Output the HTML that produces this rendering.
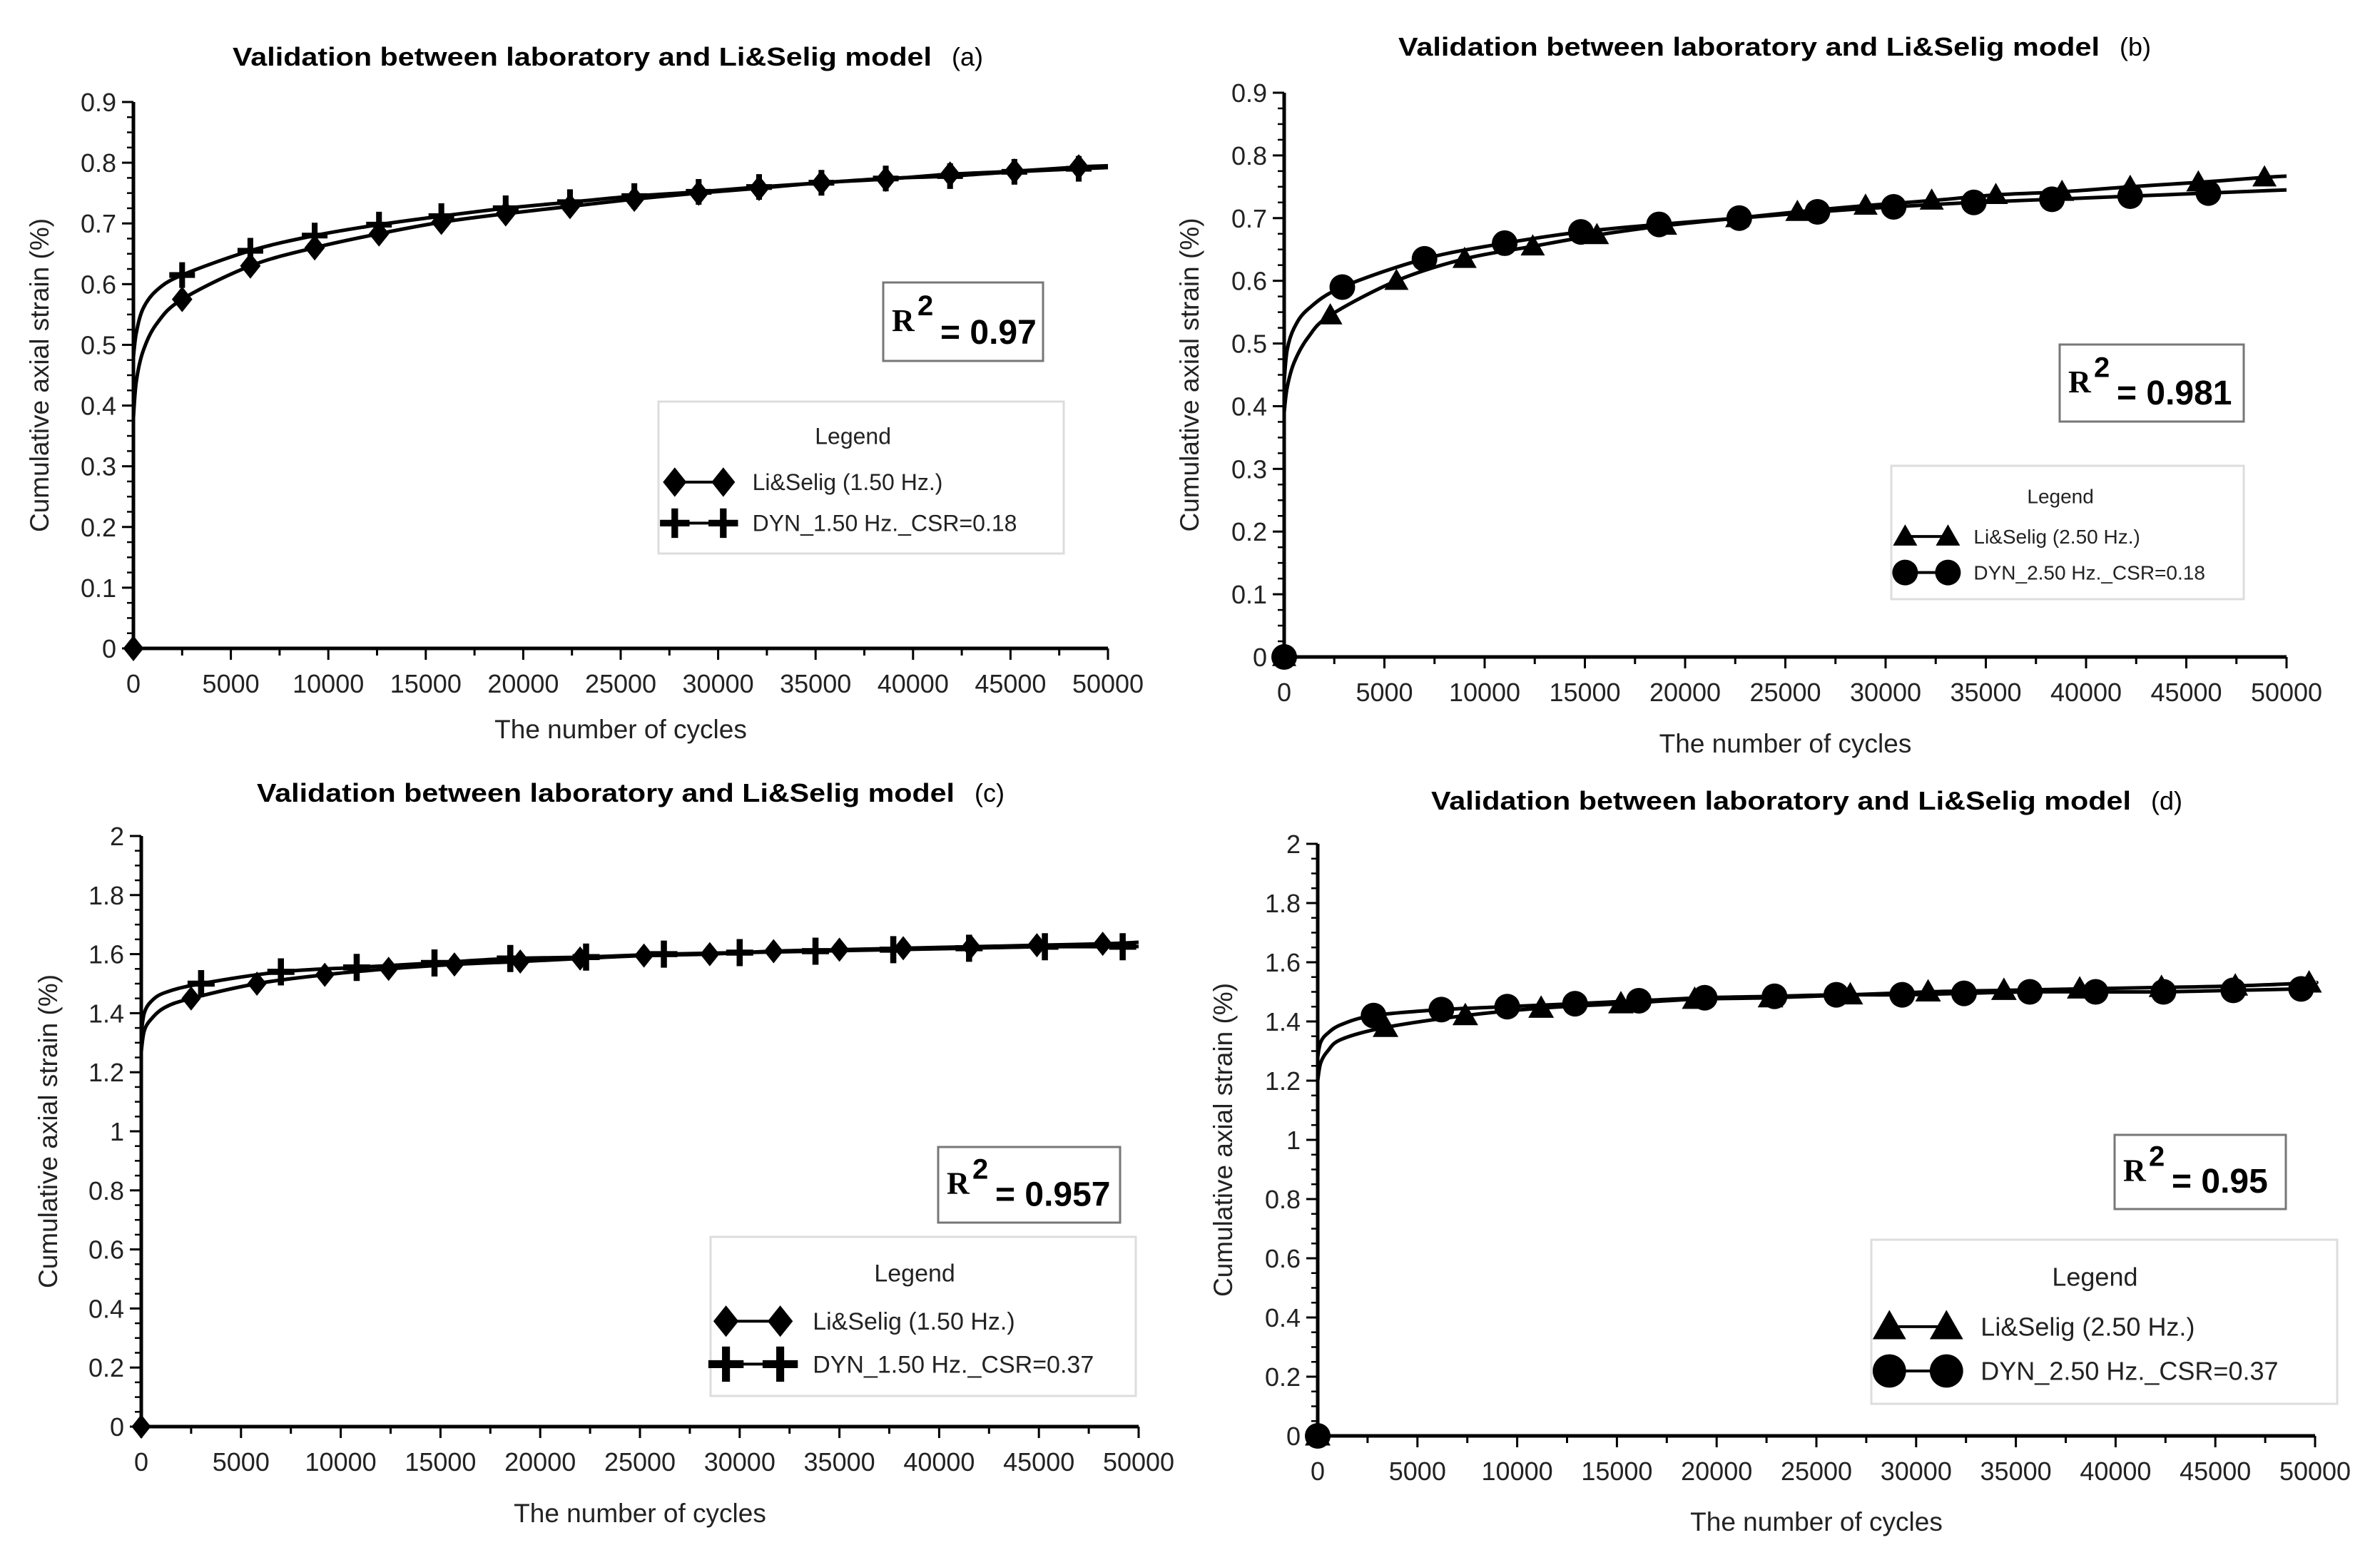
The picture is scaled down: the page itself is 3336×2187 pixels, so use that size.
<!DOCTYPE html>
<html><head><meta charset="utf-8">
<style>
html,body{margin:0;padding:0;background:#fff;}
svg{display:block;font-family:"Liberation Sans",sans-serif;}
</style></head>
<body>
<svg id="fig" width="3336" height="2187" viewBox="0 0 3336 2187" xmlns="http://www.w3.org/2000/svg"></svg>
<script>
// ---- Panel (a) data ----
const aLiX=[0,2500,6000,9300,12600,15800,19100,22400,25700,29000,32100,35300,38600,41900,45200,48500];
const aLiY=[0,0.575,0.63,0.66,0.683,0.702,0.716,0.728,0.74,0.75,0.758,0.767,0.773,0.781,0.786,0.793];
const aLiLineX=[0,150,500,1200,2500,6000,9300,12600,15800,19100,22400,25700,29000,32100,35300,38600,41900,45200,48500,50000];
const aLiLineY=[0.38,0.44,0.49,0.535,0.575,0.63,0.66,0.683,0.702,0.716,0.728,0.74,0.75,0.758,0.767,0.773,0.781,0.786,0.793,0.795];
const aDynX=[2500,6000,9300,12600,15800,19100,22400,25700,29000,32100,35300,38600,41900,45200,48500];
const aDynY=[0.615,0.655,0.68,0.698,0.712,0.725,0.735,0.745,0.752,0.76,0.767,0.774,0.778,0.785,0.79];
const aDynLineX=[0,150,500,1200,2500,6000,9300,12600,15800,19100,22400,25700,29000,32100,35300,38600,41900,45200,48500,50000];
const aDynLineY=[0.48,0.52,0.56,0.59,0.615,0.655,0.68,0.698,0.712,0.725,0.735,0.745,0.752,0.76,0.767,0.774,0.778,0.785,0.79,0.792];
// ---- Panel (b) data ----
const bLiX=[0,2300,5600,9000,12400,15600,19000,22600,25600,29000,32300,35500,38800,42200,45600,48900];
const bLiY=[0,0.545,0.6,0.635,0.655,0.673,0.688,0.7,0.71,0.72,0.728,0.737,0.742,0.75,0.757,0.765];
const bLiLineX=[0,150,500,1200,2300,5600,9000,12400,15600,19000,22600,25600,29000,32300,35500,38800,42200,45600,48900,50000];
const bLiLineY=[0.39,0.43,0.47,0.51,0.545,0.6,0.635,0.655,0.673,0.688,0.7,0.71,0.72,0.728,0.737,0.742,0.75,0.757,0.765,0.767];
const bDynX=[0,2900,7000,11000,14800,18700,22700,26600,30400,34400,38300,42200,46100];
const bDynY=[0,0.59,0.635,0.66,0.678,0.69,0.7,0.71,0.718,0.725,0.73,0.735,0.74];
const bDynLineX=[0,150,500,1200,2900,7000,11000,14800,18700,22700,26600,30400,34400,38300,42200,46100,50000];
const bDynLineY=[0.44,0.49,0.525,0.555,0.59,0.635,0.66,0.678,0.69,0.7,0.71,0.718,0.725,0.73,0.735,0.74,0.745];
// ---- Panel (c) data ----
const cLiX=[0,2500,5800,9200,12400,15700,19000,22000,25200,28500,31700,35000,38200,41600,44900,48200];
const cLiY=[0,1.45,1.5,1.53,1.55,1.565,1.575,1.585,1.595,1.6,1.61,1.615,1.62,1.625,1.63,1.635];
const cLiLineX=[0,150,500,1200,2500,5800,9200,12400,15700,19000,22000,25200,28500,31700,35000,38200,41600,44900,48200,50000];
const cLiLineY=[1.27,1.34,1.38,1.42,1.45,1.5,1.53,1.55,1.565,1.575,1.585,1.595,1.6,1.61,1.615,1.62,1.625,1.63,1.635,1.64];
const cDynX=[3000,7000,10800,14700,18500,22300,26200,30000,33800,37700,41500,45300,49200];
const cDynY=[1.5,1.54,1.555,1.57,1.585,1.59,1.6,1.605,1.61,1.615,1.62,1.625,1.625];
const cDynLineX=[0,150,500,1200,3000,7000,10800,14700,18500,22300,26200,30000,33800,37700,41500,45300,49200,50000];
const cDynLineY=[1.33,1.4,1.44,1.47,1.5,1.54,1.555,1.57,1.585,1.59,1.6,1.605,1.61,1.615,1.62,1.625,1.625,1.626];
// ---- Panel (d) data ----
const dLiX=[0,3400,7400,11200,15200,18900,22700,26700,30600,34400,38200,42300,46000,49700];
const dLiY=[0,1.38,1.42,1.445,1.46,1.475,1.48,1.49,1.5,1.505,1.51,1.515,1.52,1.53];
const dLiLineX=[0,150,500,1200,3400,7400,11200,15200,18900,22700,26700,30600,34400,38200,42300,46000,49700,50000];
const dLiLineY=[1.2,1.26,1.3,1.34,1.38,1.42,1.445,1.46,1.475,1.48,1.49,1.5,1.505,1.51,1.515,1.52,1.53,1.532];
const dDynX=[0,2800,6200,9500,12900,16100,19400,22900,26000,29300,32400,35700,39000,42400,45900,49300];
const dDynY=[0,1.42,1.44,1.45,1.46,1.47,1.48,1.485,1.49,1.49,1.495,1.5,1.5,1.5,1.505,1.51];
const dDynLineX=[0,150,500,1200,2800,6200,9500,12900,16100,19400,22900,26000,29300,32400,35700,39000,42400,45900,49300,50000];
const dDynLineY=[1.28,1.33,1.36,1.39,1.42,1.44,1.45,1.46,1.47,1.48,1.485,1.49,1.49,1.495,1.5,1.5,1.5,1.505,1.51,1.512];
// ---- tick labels ----
const xTickLabels=["0","5000","10000","15000","20000","25000","30000","35000","40000","45000","50000"];
const yTickLabelsSmall=["0","0.1","0.2","0.3","0.4","0.5","0.6","0.7","0.8","0.9"];
const yTickLabelsLarge=["0","0.2","0.4","0.6","0.8","1","1.2","1.4","1.6","1.8","2"];

const NS="http://www.w3.org/2000/svg";
const svg=document.getElementById('fig');
function el(tag,attrs,parent,text){
  const e=document.createElementNS(NS,tag);
  for(const k in attrs)e.setAttribute(k,attrs[k]);
  if(text!==undefined)e.textContent=text;
  (parent||svg).appendChild(e);return e;
}
function marker(g,type,x,y,s){
  let m;
  if(type==='diamond') m=el('polygon',{points:`${x},${y-s} ${x+s*0.8},${y} ${x},${y+s} ${x-s*0.8},${y}`,fill:'#000'},g);
  else if(type==='plus') m=el('path',{d:`M${x-s},${y}H${x+s}M${x},${y-s}V${y+s}`,stroke:'#000','stroke-width':s*0.45,fill:'none'},g);
  else if(type==='circle') m=el('circle',{cx:x,cy:y,r:s*0.9,fill:'#000'},g);
  else m=el('polygon',{points:`${x},${y-s} ${x+s},${y+s*0.75} ${x-s},${y+s*0.75}`,fill:'#000'},g);
  return m;
}
function smoothPath(pts){
  let d=`M${pts[0][0]},${pts[0][1]}`;
  for(let i=0;i<pts.length-1;i++){
    const p0=pts[Math.max(0,i-1)],p1=pts[i],p2=pts[i+1],p3=pts[Math.min(pts.length-1,i+2)];
    const c1=[p1[0]+(p2[0]-p0[0])/6,p1[1]+(p2[1]-p0[1])/6];
    const c2=[p2[0]-(p3[0]-p1[0])/6,p2[1]-(p3[1]-p1[1])/6];
    d+=` C${c1[0]},${c1[1]} ${c2[0]},${c2[1]} ${p2[0]},${p2[1]}`;
  }
  return d;
}
function panel(cfg){
  const g=el('g',{});
  
  
  const X=v=>cfg.x0+(v/50000)*(cfg.x1-cfg.x0);
  const Y=v=>cfg.y0-(v/cfg.ymax)*(cfg.y0-cfg.y1);
  const t=el('text',{x:cfg.tx,y:cfg.ty,'font-size':36,'font-weight':'bold',textLength:cfg.tw,lengthAdjust:'spacingAndGlyphs'},g,'Validation between laboratory and Li&Selig model');
  
  
  const tl=el('text',{x:cfg.tx+cfg.tw+28,y:cfg.ty,'font-size':36},g,'('+cfg.id+')');
  
  
  const ax=el('path',{d:`M${cfg.x0},${cfg.y1}V${cfg.y0}H${cfg.x1}`,stroke:'#000','stroke-width':5,fill:'none'},g);
  
  
  const nx=xTickLabels.length;
  for(let i=0;i<nx;i++){
    const v=i*5000,x=X(v);
    el('line',{x1:x,y1:cfg.y0,x2:x,y2:cfg.y0+16,stroke:'#000','stroke-width':3},g);
    if(i<nx-1){const xm=X(v+2500);el('line',{x1:xm,y1:cfg.y0,x2:xm,y2:cfg.y0+10,stroke:'#000','stroke-width':3},g);}
    const lb=el('text',{x:x,y:cfg.y0+62,'font-size':36,'text-anchor':'middle',fill:'#222'},g,xTickLabels[i]);
    
    
  }
  const labs=cfg.ylabels, n=labs.length, step=cfg.ymax/(n-1);
  for(let i=0;i<n;i++){
    const v=i*step,y=Y(v);
    el('line',{x1:cfg.x0-16,y1:y,x2:cfg.x0,y2:y,stroke:'#000','stroke-width':3},g);
    if(i<n-1){for(let k=1;k<4;k++){const ym=Y(v+step*k/4);el('line',{x1:cfg.x0-9,y1:ym,x2:cfg.x0,y2:ym,stroke:'#000','stroke-width':2.5},g);}}
    const lb=el('text',{x:cfg.x0-24,y:y+13,'font-size':36,'text-anchor':'end',fill:'#222'},g,labs[i]);
    
    
  }
  const xt=el('text',{x:(cfg.x0+cfg.x1)/2,y:cfg.xty,'font-size':37,'text-anchor':'middle',fill:'#222'},g,'The number of cycles');
  
  
  const ym=(cfg.y0+cfg.y1)/2;
  const yt=el('text',{x:cfg.ytx,y:ym,'font-size':37,'text-anchor':'middle',fill:'#222',transform:`rotate(-90 ${cfg.ytx} ${ym})`},g,'Cumulative axial strain (%)');
  
  
  cfg.series.forEach((s,si)=>{
    const pts=s.lx.map((v,i)=>[X(v),Y(s.ly[i])]);
    const p=el('path',{d:smoothPath(pts),stroke:'#000','stroke-width':5,fill:'none'},g);
    
    
    s.mx.forEach((v,i)=>{
      const m=marker(g,s.type,X(v),Y(s.my[i]),s.size);
      
      
    });
  });
  const rb=el('g',{},g);
  
  
  el('rect',{x:cfg.r[0],y:cfg.r[1],width:cfg.r[2],height:cfg.r[3],fill:'#fff',stroke:'#777','stroke-width':3},rb);
  el('text',{x:cfg.r[0]+12,y:cfg.r[1]+cfg.r[3]*0.62,'font-size':44,'font-weight':'bold','font-family':'Liberation Serif,serif'},rb,'R');
  el('text',{x:cfg.r[0]+48,y:cfg.r[1]+cfg.r[3]*0.42,'font-size':40,'font-weight':'bold'},rb,'2');
  el('text',{x:cfg.r[0]+80,y:cfg.r[1]+cfg.r[3]*0.78,'font-size':48,'font-weight':'bold'},rb,'= '+cfg.rval);
  const L=cfg.leg, lg=el('g',{},g);
  
  
  el('rect',{x:L[0],y:L[1],width:L[2],height:L[3],fill:'#fff',stroke:'#ddd','stroke-width':3},lg);
  el('text',{x:L[0]+L[2]*0.48,y:L[1]+L[3]*0.28,'font-size':L[4],'text-anchor':'middle',fill:'#222'},lg,'Legend');
  cfg.series.forEach((s,i)=>{
    const ey=L[1]+L[3]*(0.53+i*0.27), ex=L[0]+L[2]*0.1;
    const ent=el('g',{},lg);
    
    
    el('line',{x1:ex-L[5],y1:ey,x2:ex+L[5],y2:ey,stroke:'#000','stroke-width':4},ent);
    marker(ent,s.type,ex-L[5],ey,s.size*L[6]);marker(ent,s.type,ex+L[5],ey,s.size*L[6]);
    el('text',{x:ex+L[5]*2.2,y:ey+L[4]*0.35,'font-size':L[4],fill:'#222'},ent,s.label);
  });
}
panel({id:'a',x0:187,x1:1553,y0:909,y1:143,ymax:0.9,ylabels:yTickLabelsSmall,tx:326,ty:92,tw:980,xty:1035,ytx:68,
  r:[1238,396,224,110],rval:'0.97',leg:[923,563,568,213,32,34,1.15],
  series:[{key:'li-selig',type:'diamond',size:18,lx:aLiLineX,ly:aLiLineY,mx:aLiX,my:aLiY,label:'Li&Selig (1.50 Hz.)'},
          {key:'dyn',type:'plus',size:18,lx:aDynLineX,ly:aDynLineY,mx:aDynX,my:aDynY,label:'DYN_1.50 Hz._CSR=0.18'}]});
panel({id:'b',x0:1800,x1:3205,y0:921,y1:130,ymax:0.9,ylabels:yTickLabelsSmall,tx:1960,ty:78,tw:983,xty:1055,ytx:1680,
  r:[2887,483,258,108],rval:'0.981',leg:[2651,653,494,187,28,30,1.0],
  series:[{key:'li-selig',type:'triangle',size:17,lx:bLiLineX,ly:bLiLineY,mx:bLiX,my:bLiY,label:'Li&Selig (2.50 Hz.)'},
          {key:'dyn',type:'circle',size:20,lx:bDynLineX,ly:bDynLineY,mx:bDynX,my:bDynY,label:'DYN_2.50 Hz._CSR=0.18'}]});
panel({id:'c',x0:198,x1:1596,y0:2000,y1:1172,ymax:2,ylabels:yTickLabelsLarge,tx:360,ty:1124,tw:978,xty:2134,ytx:80,
  r:[1315,1608,255,106],rval:'0.957',leg:[996,1734,596,223,34,38,1.3],
  series:[{key:'li-selig',type:'diamond',size:17,lx:cLiLineX,ly:cLiLineY,mx:cLiX,my:cLiY,label:'Li&Selig (1.50 Hz.)'},
          {key:'dyn',type:'plus',size:19,lx:cDynLineX,ly:cDynLineY,mx:cDynX,my:cDynY,label:'DYN_1.50 Hz._CSR=0.37'}]});
panel({id:'d',x0:1847,x1:3245,y0:2013,y1:1183,ymax:2,ylabels:yTickLabelsLarge,tx:2006,ty:1135,tw:981,xty:2146,ytx:1727,
  r:[2964,1591,240,104],rval:'0.95',leg:[2623,1738,653,230,36,40,1.3],
  series:[{key:'li-selig',type:'triangle',size:18,lx:dLiLineX,ly:dLiLineY,mx:dLiX,my:dLiY,label:'Li&Selig (2.50 Hz.)'},
          {key:'dyn',type:'circle',size:20,lx:dDynLineX,ly:dDynLineY,mx:dDynX,my:dDynY,label:'DYN_2.50 Hz._CSR=0.37'}]});
</script>
</body></html>
